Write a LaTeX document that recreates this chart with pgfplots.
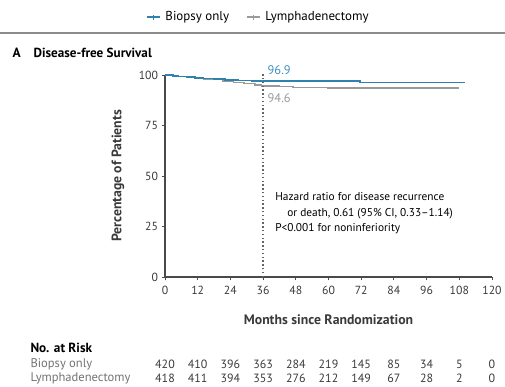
\documentclass[border=0pt]{standalone}
\usepackage{fontspec}
\setmainfont{PT Sans}
\usepackage{pgfplots}
\usepackage{pgfplotstable}
\pgfplotsset{compat=1.18}

\definecolor{bioblue}{HTML}{2F82AE}
\definecolor{biolabel}{HTML}{3F8FC0}
\definecolor{lymgray}{HTML}{9A9A9A}
\definecolor{txt}{HTML}{3A3A3A}
\definecolor{axisgray}{HTML}{4A4A4A}

% Kaplan-Meier estimates (months, percent event-free)
\pgfplotstableread{
month pct
0     100
3     99.6
5     99.3
8     98.9
11    98.5
14    98.2
18    97.9
22    97.6
27    97.3
32    97.1
35    96.9
71.5  96.3
110   96.3
}\biopsy

\pgfplotstableread{
month pct
0     100
3     99.7
5     99.3
8     98.9
11    98.5
14    98.0
17    97.6
21    97.0
25    96.3
29    95.6
33    95.0
35.5  94.6
42    94.3
47    94.0
52    93.8
59.5  93.6
108   93.6
}\lymph

% Number at risk
\pgfplotstableread{
month bio lym
0     420 418
12    410 411
24    396 394
36    363 353
48    284 276
60    219 212
72    145 149
84    85  67
96    34  28
108   5   2
120   0   0
}\risk

\begin{document}
\begin{tikzpicture}[font=\fontsize{12}{14}\selectfont\color{txt}]
\useasboundingbox (0bp,0bp) rectangle (505bp,387bp);

% header rule and panel title
\draw[line width=1.8bp, color=black!45] (0bp,354bp) -- (505bp,354bp);
\node[anchor=west, font=\fontsize{13.5}{15}\selectfont\bfseries] at (9bp,334bp) {A};
\node[anchor=west, font=\fontsize{13.2}{15}\selectfont\bfseries] at (30bp,334bp) {Disease-free Survival};

\begin{axis}[
  at={(165bp,110bp)}, anchor=south west,
  scale only axis, width=327bp, height=202bp,
  xmin=0, xmax=120, ymin=0, ymax=100,
  axis lines=left, axis line style={-, color=axisgray, line width=1.2bp},
  xtick={0,12,...,120}, ytick={0,25,50,75,100},
  tick style={color=axisgray, line width=0.9bp},
  tick align=outside, major tick length=3.5bp,
  ticklabel style={font=\fontsize{11.8}{14}\selectfont, color=txt},
  xticklabel style={yshift=-2bp},
  /pgf/number format/assume math mode=true,
  xlabel={Months since Randomization},
  ylabel={Percentage of Patients},
  label style={font=\fontsize{13.8}{15}\selectfont\bfseries, color=txt},
  xlabel style={at={(axis description cs:0.5,-0.213)}, anchor=center},
  ylabel style={at={(axis description cs:-0.144,0.5)}, anchor=center},
  clip=false,
  legend columns=2,
  legend style={at={(axis description cs:0.285,1.287)}, anchor=center,
    draw=none, fill=none, font=\fontsize{13}{14}\selectfont,
    /tikz/every odd column/.append style={column sep=3bp},
    /tikz/every even column/.append style={column sep=15bp}},
  legend image code/.code={
    \draw[#1] (0bp,0bp) -- (13bp,0bp);
    \draw[#1, line width=0.8bp] (6.5bp,-2.5bp) -- (6.5bp,2.5bp);
  },
]
% lymphadenectomy curve first so that the biopsy curve sits on top
\addplot[const plot, color=lymgray, line width=1.2bp, forget plot] table[x=month, y=pct] {\lymph};
\addplot[const plot, color=bioblue, line width=1.6bp] table[x=month, y=pct] {\biopsy};
\addlegendentry{Biopsy only}
\addlegendimage{color=lymgray, line width=1.2bp}
\addlegendentry{Lymphadenectomy}

% 36-month landmark
\addplot[color=black!60, line width=1.4bp, dash pattern=on 1.3bp off 2.5bp, forget plot]
  coordinates {(36,0) (36,101)};
\node[anchor=west, color=biolabel, font=\fontsize{12.5}{14}\selectfont] at (axis cs:36.4,102.6) {96.9};
\node[anchor=west, color=lymgray, font=\fontsize{12.5}{14}\selectfont] at (axis cs:36.4,88.6) {94.6};

% hazard ratio annotation
\node[anchor=west, align=left, inner sep=0pt, font=\fontsize{11.4}{15.3}\selectfont] at (axis cs:40.4,31.6)
  {Hazard ratio for disease recurrence\\
   \hspace*{12bp}or death, 0.61 (95\% CI, 0.33--1.14)\\
   P<0.001 for noninferiority};

% numbers at risk
\addplot[draw=none, mark=none, forget plot, nodes near coords, point meta=explicit symbolic,
  every node near coord/.append style={anchor=center, color=txt, font=\fontsize{12}{14}\selectfont}]
  table[x=month, y expr=-43.1, meta=bio] {\risk};
\addplot[draw=none, mark=none, forget plot, nodes near coords, point meta=explicit symbolic,
  every node near coord/.append style={anchor=center, color=txt, font=\fontsize{12}{14}\selectfont}]
  table[x=month, y expr=-50.0, meta=lym] {\risk};
\end{axis}

\node[anchor=west, font=\fontsize{13.3}{15}\selectfont\bfseries] at (27bp,39bp) {No. at Risk};
\node[anchor=west, color=black!55, font=\fontsize{12.6}{14}\selectfont] at (27bp,23bp) {Biopsy only};
\node[anchor=west, color=black!55, font=\fontsize{12.6}{14}\selectfont] at (27bp,9bp) {Lymphadenectomy};
\end{tikzpicture}
\end{document}
